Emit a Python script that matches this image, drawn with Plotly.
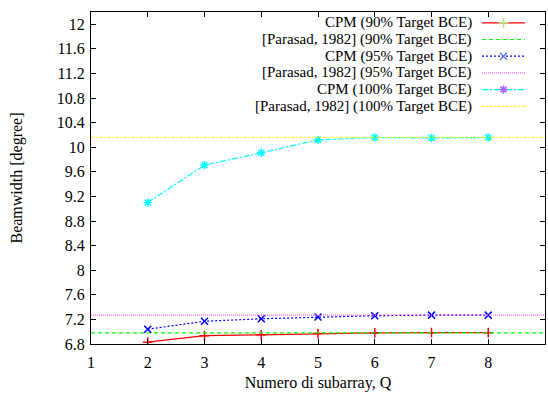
import plotly.graph_objects as go

Q = [2, 3, 4, 5, 6, 7, 8]
cpm90 = [6.83, 6.935, 6.95, 6.97, 6.98, 6.985, 6.985]
cpm95 = [7.04, 7.17, 7.21, 7.24, 7.26, 7.27, 7.27]
cpm100 = [9.10, 9.71, 9.91, 10.12, 10.16, 10.15, 10.16]
ref_x = [1, 9]
prasad90 = 6.98
prasad95 = 7.27
prasad100 = 10.16

names = [
    "CPM (90% Target BCE)",
    "[Parasad, 1982] (90% Target BCE)",
    "CPM (95% Target BCE)",
    "[Parasad, 1982] (95% Target BCE)",
    "CPM (100% Target BCE)",
    "[Parasad, 1982] (100% Target BCE)",
]

styles = [
    dict(color="#ff0000", dash="solid", symbol="cross-thin-open"),
    dict(color="#00ff00", dash="4px,3px", symbol=None),
    dict(color="#0000ff", dash="2px,2px", symbol="x-thin-open"),
    dict(color="#ff66ff", dash="1px,1px", symbol=None),
    dict(color="#00ffff", dash="6px,2px,2px,2px", symbol="asterisk-open"),
    dict(color="#ffff00", dash="3px,2px,1px,2px", symbol=None),
]

series = [
    (Q, cpm90),
    (ref_x, [prasad90] * 2),
    (Q, cpm95),
    (ref_x, [prasad95] * 2),
    (Q, cpm100),
    (ref_x, [prasad100] * 2),
]

FONT = "Liberation Serif"
FS = 16
LFS = 15
fig = go.Figure()

for (xs, ys), st in zip(series, styles):
    mode = "lines+markers" if st["symbol"] else "lines"
    fig.add_trace(go.Scatter(
        x=xs, y=ys, mode=mode,
        line=dict(color=st["color"], dash=st["dash"], width=1.2),
        marker=dict(symbol=st["symbol"] or "circle", size=7,
                    line=dict(color=st["color"], width=1.5)),
        showlegend=False, xaxis="x", yaxis="y",
    ))

# custom legend (gnuplot style: text right, sample on right)
row_y = [22.8 + 16.7 * i for i in range(6)]
for name, st, ry in zip(names, styles, row_y):
    fig.add_trace(go.Scatter(
        x=[482, 525], y=[ry, ry], mode="lines",
        line=dict(color=st["color"], dash=st["dash"], width=1.2),
        showlegend=False, xaxis="x2", yaxis="y2", hoverinfo="skip",
    ))
    if st["symbol"]:
        fig.add_trace(go.Scatter(
            x=[503.5], y=[ry], mode="markers",
            marker=dict(symbol=st["symbol"], size=7,
                        line=dict(color=st["color"], width=1.5)),
            showlegend=False, xaxis="x2", yaxis="y2", hoverinfo="skip",
        ))
    fig.add_annotation(x=473, y=ry, xref="x2", yref="y2", text=name,
                       showarrow=False, xanchor="right", yanchor="middle",
                       height=15, borderpad=0,
                       font=dict(family=FONT, size=LFS, color="black"))

axis_common = dict(
    showline=True, linecolor="black", linewidth=1, mirror="ticks",
    ticks="inside", ticklen=5, tickcolor="black", showgrid=False,
    zeroline=False, tickfont=dict(family=FONT, size=FS, color="black"),
)

yt = [round(6.8 + 0.4 * i, 1) for i in range(14)]
fig.update_layout(
    width=548, height=397,
    margin=dict(l=91, r=3, t=12, b=53),
    plot_bgcolor="white", paper_bgcolor="white",
    xaxis=dict(range=[1, 9], tickvals=list(range(1, 10)),
               ticklabelstandoff=4,
               title=dict(text="Numero di subarray, Q",
                          font=dict(family=FONT, size=FS, color="black"),
                          standoff=6),
               **axis_common),
    yaxis=dict(range=[6.8, 12.2],
               tickvals=yt,
               ticktext=[f"{v:g}" for v in yt],
               ticklabelstandoff=2,
               title=dict(text="Beamwidth [degree]",
                          font=dict(family=FONT, size=FS, color="black"),
                          standoff=30),
               **axis_common),
    xaxis2=dict(range=[91, 545], overlaying="x", visible=False, fixedrange=True),
    yaxis2=dict(range=[344, 12], overlaying="y", visible=False, fixedrange=True),
)

fig.write_html("out.html")
